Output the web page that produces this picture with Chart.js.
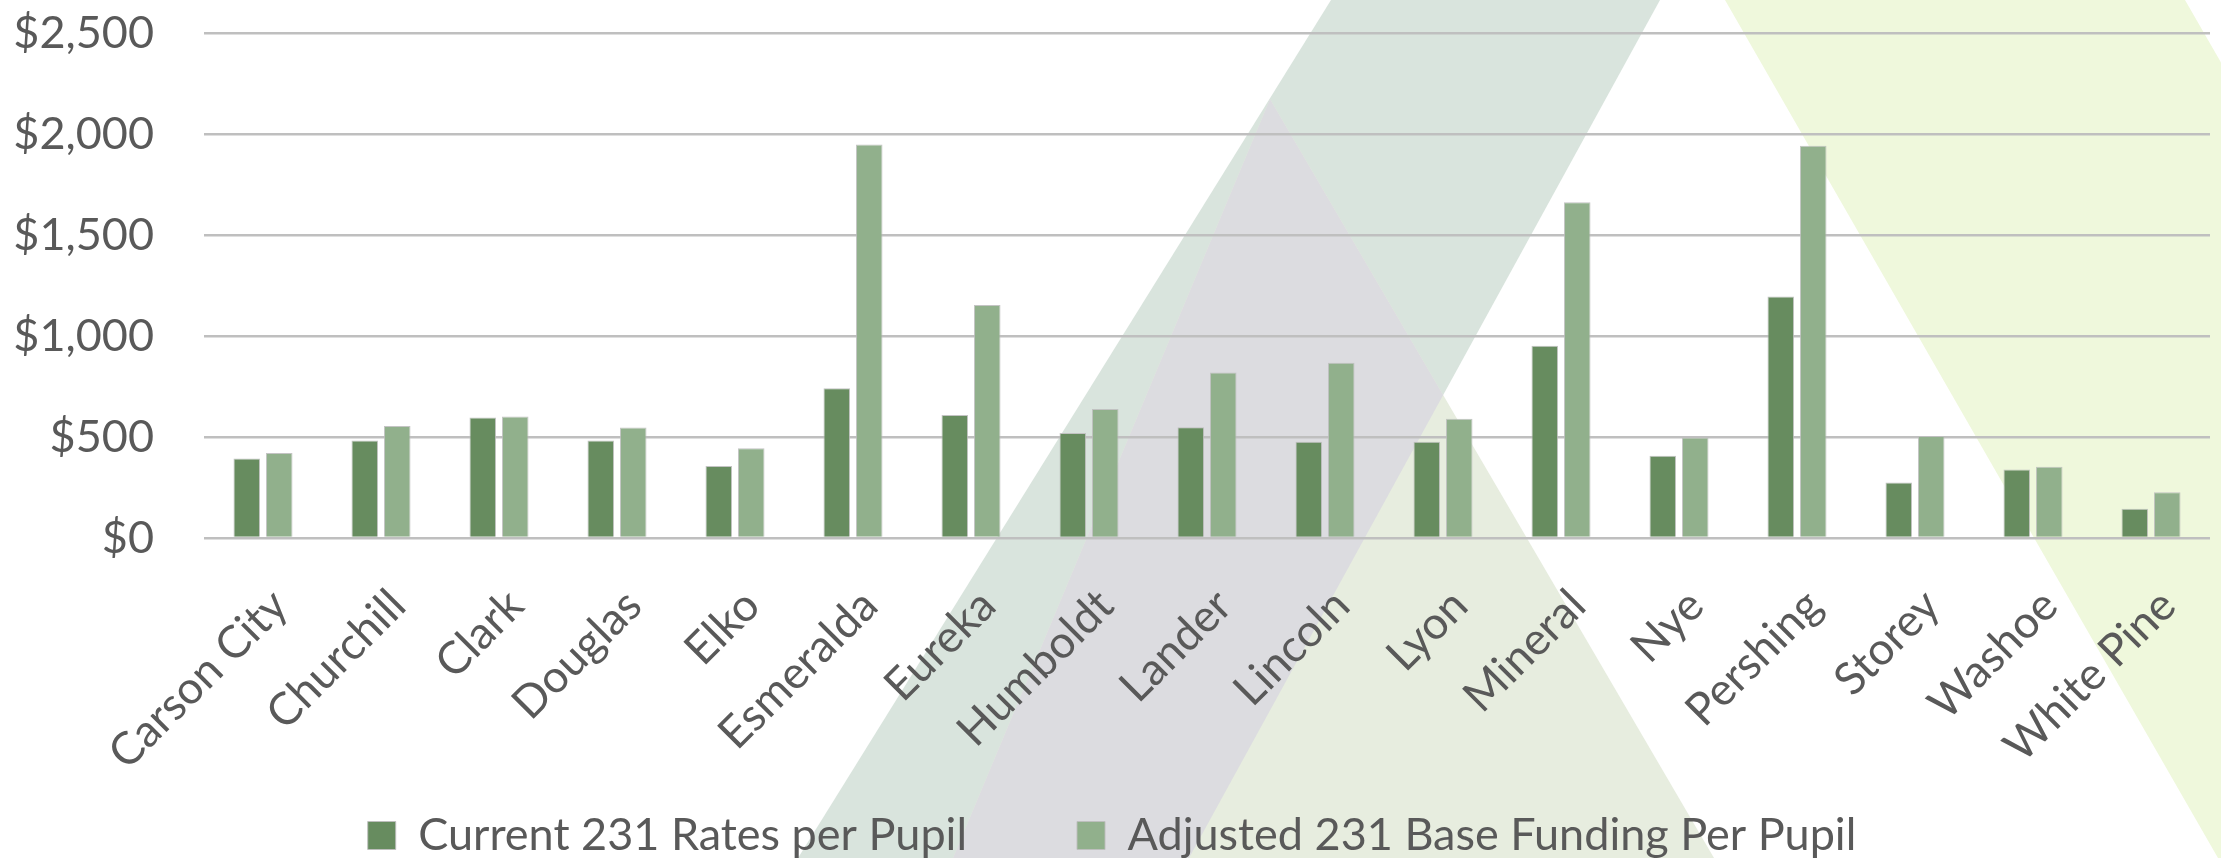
<!DOCTYPE html>
<html>
<head>
<meta charset="utf-8">
<script src="https://cdn.jsdelivr.net/npm/chart.js@4"></script>
<style>
  html, body { margin: 0; padding: 0; background: #ffffff; overflow: hidden; }
  #chart { display: block; }
</style>
</head>
<body>
<canvas id="chart" width="2221" height="858"></canvas>
<script>
const districts = ['Carson City', 'Churchill', 'Clark', 'Douglas', 'Elko', 'Esmeralda', 'Eureka', 'Humboldt', 'Lander', 'Lincoln', 'Lyon', 'Mineral', 'Nye', 'Pershing', 'Storey', 'Washoe', 'White Pine'];
const currentRates = [393, 483, 597, 483, 357, 741, 609, 520, 548, 477, 477, 952, 407, 1195, 275, 339, 145];
const adjustedBase = [421, 554, 602, 547, 444, 1948, 1154, 639, 819, 868, 590, 1662, 497, 1942, 505, 353, 227];
const seriesNames = ['Current 231 Rates per Pupil', 'Adjusted 231 Base Funding Per Pupil'];
const yTicks = [0, 500, 1000, 1500, 2000, 2500];

const textColor = '#595959';
const fontFamily = 'Lato, "Open Sans", sans-serif';

// slide background: translucent triangles behind the plot
const backdrop = {
    id: 'backdrop',
    beforeDraw(chart) {
        const ctx = chart.ctx;
        const poly = (pts, color) => {
            ctx.beginPath();
            pts.forEach((p, i) => i ? ctx.lineTo(p[0], p[1]) : ctx.moveTo(p[0], p[1]));
            ctx.closePath();
            if (color) { ctx.fillStyle = color; ctx.fill(); }
        };
        const band = [[1331, 0], [1660, 0], [1189, 858], [798, 858]];
        const tri = [[1270, 99], [1714, 858], [953, 858]];
        ctx.save();
        ctx.fillStyle = '#ffffff';
        ctx.fillRect(0, 0, chart.width, chart.height);
        poly([[1725, 0], [2185, 0], [2680, 858], [2218, 858]], '#eff8dc');
        poly(band, '#d9e4dd');
        poly(tri, '#e7eddf');
        poly(band);
        ctx.clip();
        poly(tri, '#dcdce0');
        ctx.restore();
    }
};

const ctx = document.getElementById('chart').getContext('2d');
new Chart(ctx, {
    type: 'bar',
    data: {
        labels: districts,
        datasets: [{
            label: seriesNames[0],
            data: currentRates,
            backgroundColor: '#678c5f',
            borderColor: 'rgba(190,190,190,0.9)',
            borderWidth: 1,
            categoryPercentage: 0.55,
            barPercentage: 0.82
        }, {
            label: seriesNames[1],
            data: adjustedBase,
            backgroundColor: '#91b08c',
            borderColor: 'rgba(190,190,190,0.9)',
            borderWidth: 1,
            categoryPercentage: 0.55,
            barPercentage: 0.82
        }]
    },
    options: {
        responsive: false,
        animation: false,
        devicePixelRatio: 1,
        layout: { padding: { left: 14, right: 11, top: 33, bottom: -10 } },
        plugins: {
            tooltip: { enabled: false },
            legend: {
                position: 'bottom',
                labels: {
                    color: textColor,
                    font: { family: fontFamily, size: 45 },
                    boxWidth: 28,
                    boxHeight: 28,
                    padding: 110
                }
            }
        },
        scales: {
            x: {
                grid: { display: false, drawTicks: false },
                border: { display: false },
                ticks: {
                    color: textColor,
                    font: { family: fontFamily, size: 45 },
                    minRotation: 45,
                    maxRotation: 45,
                    padding: 41,
                    labelOffset: 17,
                    autoSkip: false
                },
                afterFit(scale) {
                    scale.height = 165;
                    scale.paddingLeft = 0;
                    scale.paddingRight = 0;
                    // labels run down past the axis box into the legend gap
                    scale._computeLabelArea = () => undefined;
                }
            },
            y: {
                min: yTicks[0],
                max: yTicks[yTicks.length - 1],
                afterBuildTicks(scale) { scale.ticks = yTicks.map(v => ({ value: v })); },
                grid: { color: '#bfbfbf', lineWidth: 2.5, drawTicks: false },
                border: { display: false },
                ticks: {
                    color: textColor,
                    font: { family: fontFamily, size: 45 },
                    padding: 50,
                    callback: v => '$' + v.toLocaleString('en-US')
                },
                afterFit(scale) {
                    scale.width = 190;
                    scale.paddingTop = 27;
                    scale.paddingBottom = 27;
                }
            }
        }
    },
    plugins: [backdrop]
});
</script>
</body>
</html>
